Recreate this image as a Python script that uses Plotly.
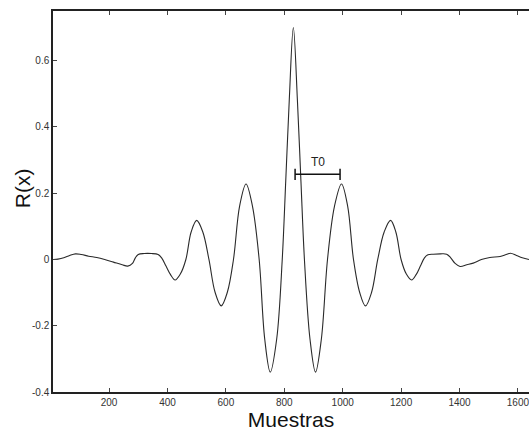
import plotly.graph_objects as go

# Sample index (Muestras) and autocorrelation values R(x)
muestras = [10, 25, 45, 65, 85, 105, 130, 158, 185, 215, 245, 264, 280, 290, 300,
            320, 345, 368, 380, 395, 410, 426, 444, 463, 481, 500, 521, 542, 563,
            584, 605, 626, 647, 669, 691, 714, 733, 752, 774, 793, 805, 817, 831,
            845, 857, 869, 888, 907, 927, 948, 972, 996, 1017, 1037, 1058, 1078,
            1099, 1120, 1142, 1164, 1182, 1200, 1218, 1236, 1252, 1266, 1280, 1292,
            1310, 1335, 1356, 1370, 1385, 1402, 1425, 1447, 1475, 1504, 1539, 1560,
            1575, 1595, 1615, 1638]
r_vals = [0.0, 0.001, 0.005, 0.012, 0.017, 0.015, 0.010, 0.006, 0.0, -0.008,
          -0.016, -0.020, -0.012, 0.005, 0.015, 0.018, 0.018, 0.015, 0.005,
          -0.020, -0.045, -0.062, -0.044, 0.0, 0.083, 0.118, 0.083, 0.0, -0.099,
          -0.140, -0.099, 0.0, 0.161, 0.228, 0.161, 0.0, -0.240, -0.340, -0.240,
          0.0, 0.237, 0.480, 0.700,
          0.480, 0.237, 0.0, -0.240, -0.340, -0.240, 0.0, 0.161, 0.228, 0.161,
          0.0, -0.099, -0.140, -0.099, 0.0, 0.083, 0.118, 0.083, 0.0, -0.044,
          -0.062, -0.045, -0.020, 0.005, 0.014, 0.016, 0.017, 0.016, 0.005,
          -0.012, -0.021, -0.016, -0.011, 0.0, 0.006, 0.009, 0.015, 0.019, 0.012,
          0.005, 0.0]

# T0 period marker
t0_x = [837, 991]
t0_y = [0.257, 0.257]
t0_label = "T0"
t0_label_pos = (915, 0.295)

x_ticks = [200, 400, 600, 800, 1000, 1200, 1400, 1600]
y_ticks = [-0.4, -0.2, 0, 0.2, 0.4, 0.6]
y_tick_text = ["-0.4", "-0.2", "0", "0.2", "0.4", "0.6"]

fig = go.Figure()
fig.add_trace(go.Scatter(
    x=muestras, y=r_vals, mode="lines",
    line=dict(color="#2a2a2a", width=1.1, shape="spline", smoothing=1.0),
    hoverinfo="skip", showlegend=False, cliponaxis=True))

fig.add_trace(go.Scatter(
    x=t0_x, y=t0_y, mode="lines+markers",
    line=dict(color="#111111", width=1.5),
    marker=dict(symbol="line-ns", size=8, line=dict(color="#111111", width=1.5)),
    hoverinfo="skip", showlegend=False))

fig.add_annotation(x=t0_label_pos[0], y=t0_label_pos[1], text=t0_label,
                   showarrow=False, font=dict(size=12, color="#222222"),
                   xanchor="center", yanchor="middle")

fig.add_annotation(xref="paper", yref="paper", x=-0.065, y=0.535,
                   text="R(x)", textangle=-90, showarrow=False,
                   font=dict(size=21, color="#111111"),
                   xanchor="center", yanchor="middle")

axis_common = dict(showline=True, linecolor="#222222", linewidth=1.5,
                   ticks="inside", ticklen=4, tickwidth=1, tickcolor="#444444",
                   showgrid=False, zeroline=False, ticklabeloverflow="allow",
                   tickfont=dict(family="Liberation Sans, Arial, sans-serif",
                                 size=10, color="#333333"))

fig.update_xaxes(range=[8, 1638], tickvals=x_ticks, mirror="ticks",
                 title=dict(text="Muestras", standoff=2,
                            font=dict(size=21, color="#111111")),
                 **axis_common)
fig.update_yaxes(range=[-0.4, 0.75], tickvals=y_ticks, ticktext=y_tick_text,
                 mirror=False, **axis_common)

fig.update_layout(width=529, height=433,
                  margin=dict(l=53, r=0, t=11, b=41),
                  paper_bgcolor="white", plot_bgcolor="white",
                  font=dict(family="Liberation Sans, Arial, sans-serif"))

fig.write_html("out.html")
